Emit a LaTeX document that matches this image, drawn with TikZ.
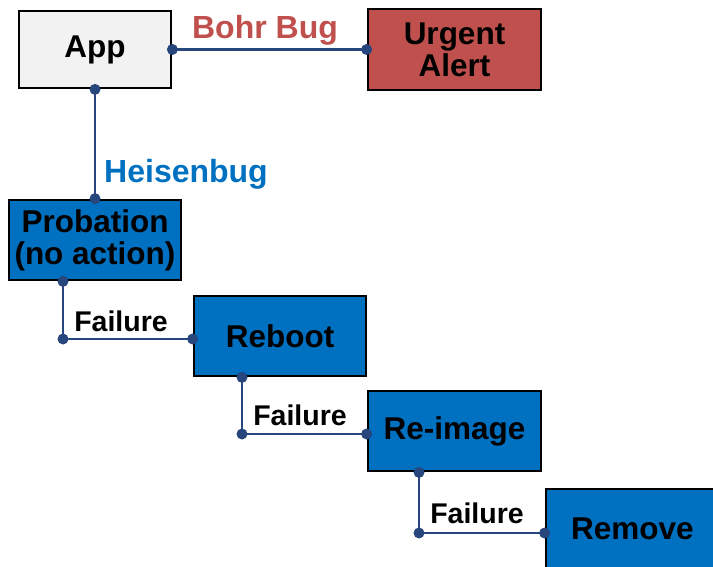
\documentclass[tikz,border=0pt]{standalone}
\usepackage{fontspec}
\setmainfont{Liberation Sans}
\definecolor{appgray}{HTML}{F2F2F2}
\definecolor{alertred}{HTML}{C0504D}
\definecolor{stepblue}{HTML}{0070C0}
\definecolor{linkblue}{RGB}{38,70,125}
\begin{document}
\begin{tikzpicture}[x=1pt,y=-1pt,
  box/.style={draw=black, line width=2.8pt, rectangle, align=center, inner sep=0pt,
    font=\fontsize{31.5}{32}\selectfont\bfseries, text=black},
  link/.style={draw=linkblue, line width=2.8pt},
  jdot/.style={fill=linkblue},
  flab/.style={font=\fontsize{28.5}{30}\selectfont\bfseries, text=black, inner sep=0pt},
  blab/.style={font=\fontsize{32}{33}\selectfont\bfseries, inner sep=0pt}
]
\useasboundingbox (0,0) rectangle (713,567);
\node[box, fill=appgray, minimum width=152pt, minimum height=77pt] (app) at (95,49.5) {App};
\node[box, fill=alertred, minimum width=173pt, minimum height=81pt] (alert) at (454.5,49.5) {Urgent\\Alert};
\node[box, fill=stepblue, minimum width=172pt, minimum height=80pt] (prob) at (95,240) {Probation\\(no action)};
\node[box, fill=stepblue, minimum width=172pt, minimum height=80pt] (reboot) at (280,336) {Reboot};
\node[box, fill=stepblue, minimum width=173pt, minimum height=80pt] (reimg) at (454.5,431) {Re-image};
\node[box, fill=stepblue, minimum width=173pt, minimum height=80pt] (remove) at (632.5,529) {Remove};

\node[blab, text=alertred] (bohr) at (265,30) {Bohr Bug};
\node[blab, text=stepblue] (heis) at (186,174) {Heisenbug};
\node[flab] (f1l) at (121,321) {Failure};
\node[flab] (f2l) at (300,415) {Failure};
\node[flab] (f3l) at (477,513) {Failure};

\coordinate (c1) at (63,339);
\coordinate (c2) at (242,434);
\coordinate (c3) at (419,533);

\draw[link] (app.east) -- (alert.west);
\draw[link] (app.south) -- (prob.north);
\draw[link] (c1 |- prob.south) -- (c1) -- (c1 -| reboot.west);
\draw[link] (c2 |- reboot.south) -- (c2) -- (c2 -| reimg.west);
\draw[link] (c3 |- reimg.south) -- (c3) -- (c3 -| remove.west);

\foreach \p in {app.east, alert.west, app.south, prob.north}
  \fill[jdot] (\p) circle[radius=5.5pt];
\fill[jdot] (c1 |- prob.south) circle[radius=5.5pt];
\fill[jdot] (c1) circle[radius=5.5pt];
\fill[jdot] (c1 -| reboot.west) circle[radius=5.5pt];
\fill[jdot] (c2 |- reboot.south) circle[radius=5.5pt];
\fill[jdot] (c2) circle[radius=5.5pt];
\fill[jdot] (c2 -| reimg.west) circle[radius=5.5pt];
\fill[jdot] (c3 |- reimg.south) circle[radius=5.5pt];
\fill[jdot] (c3) circle[radius=5.5pt];
\fill[jdot] (c3 -| remove.west) circle[radius=5.5pt];
\end{tikzpicture}
\end{document}
